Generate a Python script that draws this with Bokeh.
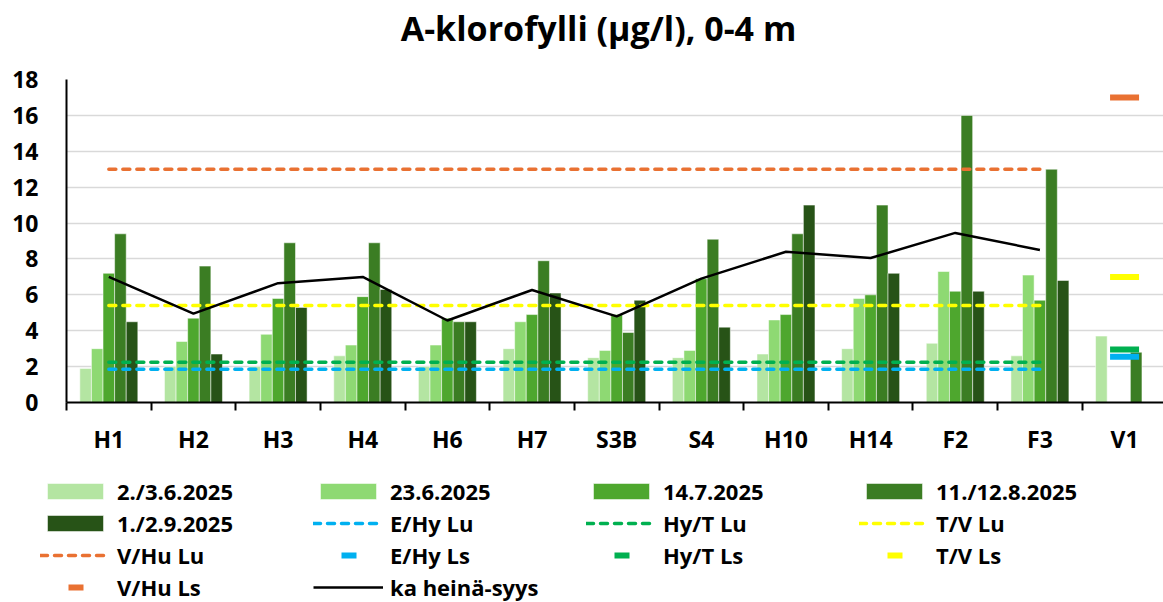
from bokeh.plotting import figure
from bokeh.layouts import column, row
from bokeh.models import Range1d, FixedTicker, Legend, LegendItem, ColumnDataSource
from bokeh.transform import dodge
from bokeh.core.properties import value
from bokeh.embed import file_html
from bokeh.resources import INLINE

nan = float("nan")

title_text = "A-klorofylli (µg/l), 0-4 m"

stations = ["H1", "H2", "H3", "H4", "H6", "H7", "S3B", "S4", "H10", "H14", "F2", "F3", "V1"]
jun_2_3 = [1.9, 2.0, 2.0, 2.6, 2.0, 3.0, 2.5, 2.5, 2.7, 3.0, 3.3, 2.6, 3.7]
jun_23 = [3.0, 3.4, 3.8, 3.2, 3.2, 4.5, 2.9, 2.9, 4.6, 5.8, 7.3, 7.1, nan]
jul_14 = [7.2, 4.7, 5.8, 5.9, 4.7, 4.9, 4.9, 6.9, 4.9, 6.0, 6.2, 5.7, nan]
aug_11_12 = [9.4, 7.6, 8.9, 8.9, 4.5, 7.9, 3.9, 9.1, 9.4, 11.0, 16.0, 13.0, 2.8]
sep_1_2 = [4.5, 2.7, 5.3, 6.3, 4.5, 6.1, 5.7, 4.2, 11.0, 7.2, 6.2, 6.8, nan]

avg_stations = ["H1", "H2", "H3", "H4", "H6", "H7", "S3B", "S4", "H10", "H14", "F2", "F3"]
avg_jul_sep = [7.0, 4.95, 6.65, 7.0, 4.57, 6.27, 4.8, 6.9, 8.4, 8.05, 9.45, 8.5]

series_labels = ["2./3.6.2025", "23.6.2025", "14.7.2025", "11./12.8.2025", "1./2.9.2025"]
series_colors = ["#B4E5A2", "#8ED973", "#4EA72E", "#3B7D23", "#275317"]

# class limits: Lu = lines over the stations H1..F3, Ls = markers at V1
lu_names = ["E/Hy Lu", "Hy/T Lu", "T/V Lu", "V/Hu Lu"]
lu_values = [1.85, 2.25, 5.4, 13.0]
lu_span = ["H1", "F3"]
ls_names = ["E/Hy Ls", "Hy/T Ls", "T/V Ls", "V/Hu Ls"]
ls_values = [2.55, 2.95, 7.0, 17.0]
ls_station = "V1"
limit_colors = ["#00B0F0", "#00B050", "#FFFF00", "#E97132"]

note_station = "H6"
note_text = "*"

FONT = "Open Sans"
bw = 0.137
W = 1163

pos = {s: i + 0.5 for i, s in enumerate(stations)}
src = ColumnDataSource(dict(x=[pos[s] for s in stations], s0=jun_2_3, s1=jun_23,
                            s2=jul_14, s3=aug_11_12, s4=sep_1_2))

bar_style = dict(line_color="white", line_alpha=0.5, line_width=1)
lu_style = dict(line_width=3.5, line_dash="7 7", line_cap="round")
avg_style = dict(line_color="black", line_width=2.5)


def blank_strip(height):
    f = figure(width=W, height=height, output_backend="svg", toolbar_location=None,
               x_range=Range1d(0, W), y_range=Range1d(0, height),
               x_axis_location=None, y_axis_location=None,
               min_border_left=0, min_border_right=0, min_border_top=0, min_border_bottom=0)
    f.outline_line_color = None
    f.grid.visible = False
    return f


# title strip
tf = blank_strip(60)
tf.text(x=[598], y=[33], text=[title_text], text_align="center", text_baseline="alphabetic",
        text_font=value(FONT), text_font_size="34px", text_font_style="bold",
        text_color="black")

# main chart
p = figure(width=W, height=400, output_backend="svg", toolbar_location=None,
           x_range=Range1d(0, 12.96), y_range=Range1d(0, 18),
           min_border_left=66, min_border_right=0, min_border_top=19, min_border_bottom=58)
p.outline_line_color = None

for k, col in enumerate(["s0", "s1", "s2", "s3", "s4"]):
    p.vbar(x=dodge("x", (k - 2) * bw, range=p.x_range), top=col, width=bw, bottom=0,
           source=src, fill_color=series_colors[k], **bar_style)
for v, c in zip(lu_values, limit_colors):
    p.line(x=[pos[lu_span[0]], pos[lu_span[1]]], y=[v, v], line_color=c, **lu_style)
for v, c in zip(ls_values, limit_colors):
    p.scatter(x=[pos[ls_station]], y=[v], marker="dash", size=29, line_width=6,
              line_color=c, fill_color=c)
p.line(x=[pos[s] for s in avg_stations], y=avg_jul_sep, **avg_style)

p.text(x=[pos[note_station] - bw], y=[0], text=[note_text], text_align="center",
       text_baseline="alphabetic", y_offset=6, text_font=value(FONT),
       text_font_size="18px", text_color="black")

p.xaxis.ticker = FixedTicker(ticks=[pos[s] for s in stations],
                             minor_ticks=list(range(len(stations) + 1)))
p.xaxis.major_label_overrides = {pos[s]: s for s in stations}
p.xaxis.major_tick_line_color = None
p.xaxis.major_tick_out = 0
p.xaxis.major_tick_in = 0
p.xaxis.minor_tick_out = 8
p.xaxis.minor_tick_in = 0
p.xaxis.minor_tick_line_color = "black"
p.xaxis.minor_tick_line_width = 2
p.xaxis.axis_line_color = "black"
p.xaxis.axis_line_width = 2
p.xaxis.major_label_standoff = 12
p.xaxis.major_label_text_font = FONT
p.xaxis.major_label_text_font_style = "bold"
p.xaxis.major_label_text_font_size = "23px"
p.xaxis.major_label_text_color = "black"

p.yaxis.ticker = FixedTicker(ticks=list(range(0, 19, 2)))
p.yaxis.major_tick_line_color = None
p.yaxis.minor_tick_line_color = None
p.yaxis.major_tick_out = 0
p.yaxis.major_tick_in = 0
p.yaxis.axis_line_color = "black"
p.yaxis.axis_line_width = 2
p.yaxis.major_label_standoff = 28
p.yaxis.major_label_text_font = FONT
p.yaxis.major_label_text_font_style = "bold"
p.yaxis.major_label_text_font_size = "23px"
p.yaxis.major_label_text_color = "black"

p.xgrid.grid_line_color = None
p.ygrid.grid_line_color = "#D9D9D9"
p.ygrid.grid_line_width = 1.5

# legend strip below the chart: the same series drawn out of view, only the legend shows
lg = figure(width=W, height=142, output_backend="svg", toolbar_location=None,
            x_range=Range1d(-20, -19), y_range=Range1d(-20, -19),
            x_axis_location=None, y_axis_location=None,
            min_border_left=0, min_border_right=0, min_border_top=0, min_border_bottom=0)
lg.outline_line_color = None
lg.grid.visible = False

bars = [lg.vbar(x=dodge("x", (k - 2) * bw, range=lg.x_range), top=col, width=bw,
                source=src, fill_color=series_colors[k], **bar_style)
        for k, col in enumerate(["s0", "s1", "s2", "s3", "s4"])]
lus = [lg.line(x=[pos[lu_span[0]], pos[lu_span[1]]], y=[v, v], line_color=c, **lu_style)
       for v, c in zip(lu_values, limit_colors)]
# the Ls markers show as a short centred dash in the legend
lss = [lg.line(x=[pos[ls_station], pos[ls_station]], y=[v, v], line_color=c, line_width=6,
               line_dash="0 28 15 100")
       for v, c in zip(ls_values, limit_colors)]
avg = lg.line(x=[pos[s] for s in avg_stations], y=avg_jul_sep, **avg_style)

items = [LegendItem(label=l, renderers=[r]) for l, r in zip(series_labels, bars)]
items += [LegendItem(label=n, renderers=[r]) for n, r in zip(lu_names, lus)]
items += [LegendItem(label=n, renderers=[r]) for n, r in zip(ls_names, lss)]
items += [LegendItem(label="ka heinä-syys", renderers=[avg])]

legend = Legend(items=items, ncols=4, orientation="horizontal", location=(40, 0),
                glyph_width=70, glyph_height=20, label_standoff=7, label_width=194,
                label_height=20, spacing=2, padding=0, margin=0,
                border_line_color=None, background_fill_alpha=0,
                label_text_font=FONT, label_text_font_style="bold",
                label_text_font_size="22px", label_text_color="black")
lg.add_layout(legend)

layout = column(row(tf, spacing=0), p, row(lg, spacing=0), spacing=0)
open("out.html", "w").write(file_html(layout, INLINE))
